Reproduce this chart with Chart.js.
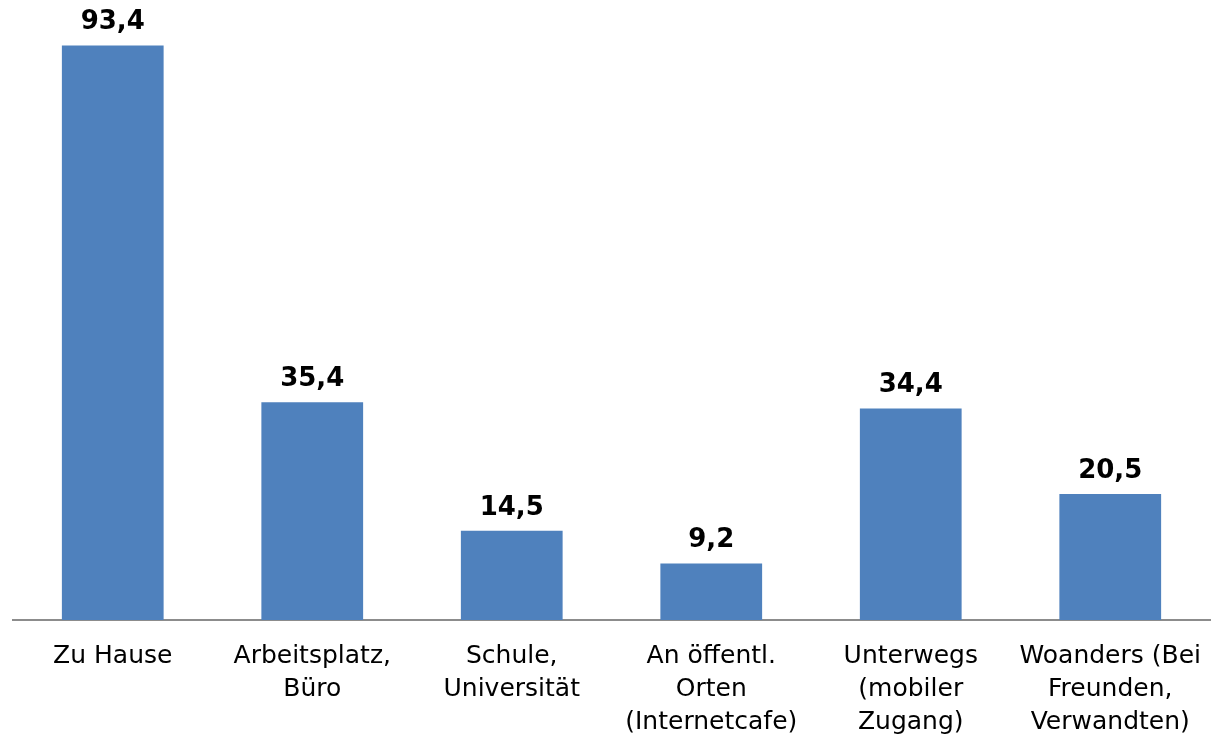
<!DOCTYPE html>
<html>
<head>
<meta charset="utf-8">
<script src="https://cdn.jsdelivr.net/npm/chart.js@4/dist/chart.umd.min.js"></script>
<style>
  html, body { margin: 0; padding: 0; background: #fff; }
  #wrap { width: 1213px; height: 737px; }
</style>
</head>
<body>
<div id="wrap"><canvas id="orte"></canvas></div>
<script>
// Orte der Internetnutzung (Angaben in %)
var categories = [
    'Zu Hause',
    ['Arbeitsplatz,', 'Büro'],
    ['Schule,', 'Universität'],
    ['An öffentl.', 'Orten', '(Internetcafe)'],
    ['Unterwegs', '(mobiler', 'Zugang)'],
    ['Woanders (Bei', 'Freunden,', 'Verwandten)']
];
var values = [93.4, 35.4, 14.5, 9.2, 34.4, 20.5];
var valueLabels = ['93,4', '35,4', '14,5', '9,2', '34,4', '20,5'];

// writes the value over each bar
var barValues = {
    id: 'barValues',
    afterDatasetsDraw: function(chart) {
        var ctx = chart.ctx;
        var meta = chart.getDatasetMeta(0);
        ctx.save();
        ctx.font = 'bold 26px "DejaVu Sans"';
        ctx.fillStyle = '#000';
        ctx.textAlign = 'center';
        ctx.textBaseline = 'middle';
        meta.data.forEach(function(bar, i) {
            ctx.fillText(valueLabels[i], bar.x, bar.y - 23);
        });
        ctx.restore();
    }
};

var ctx = document.getElementById('orte').getContext('2d');
var chart = new Chart(ctx, {
    type: 'bar',
    data: {
        labels: categories,
        datasets: [{
            data: values,
            backgroundColor: '#4F81BD',
            borderWidth: 0,
            barPercentage: 0.51,
            categoryPercentage: 1.0
        }]
    },
    options: {
        responsive: true,
        maintainAspectRatio: false,
        animation: false,
        layout: { padding: { top: 5, left: 13, right: 3, bottom: 0 } },
        plugins: {
            legend: { display: false },
            tooltip: { enabled: false }
        },
        scales: {
            x: {
                grid: { display: false, drawTicks: false },
                border: { display: true, color: '#8c8c8c', width: 2 },
                ticks: {
                    color: '#000',
                    padding: 20,
                    maxRotation: 0,
                    autoSkip: false,
                    font: { family: '"DejaVu Sans"', size: 25, lineHeight: 1.32 }
                },
                afterFit: function(scale) {
                    scale.height = 117;
                    // let the outer labels run to the canvas edge
                    scale.paddingLeft = 0;
                    scale.paddingRight = 0;
                }
            },
            y: {
                display: false,
                min: 0,
                max: 100
            }
        }
    },
    plugins: [barValues]
});
</script>
</body>
</html>
